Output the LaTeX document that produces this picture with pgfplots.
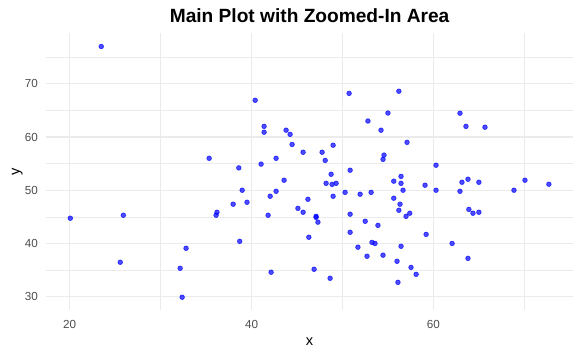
\documentclass[border=0pt]{standalone}
\usepackage{fontspec}
\setmainfont{Liberation Sans}
\usepackage{pgfplots}
\pgfplotsset{compat=1.18}
\definecolor{gridc}{HTML}{EBEBEB}
\definecolor{tickc}{HTML}{4D4D4D}
\begin{document}
\begin{tikzpicture}
\path[use as bounding box] (-34.8bp,-33.75bp) rectangle (400.95bp,232.5bp);
\begin{axis}[
  at={(0,0)}, anchor=south west,
  scale only axis, width=394.8bp, height=207.4bp,
  xmin=17.44, xmax=75.33, ymin=27.5, ymax=79.45,
  xtick={20,40,60}, minor xtick={30,50,70},
  ytick={30,40,50,60,70}, minor ytick={35,45,55,65,75},
  grid=both,
  major grid style={draw=gridc, line width=0.8bp},
  minor grid style={draw=gridc, line width=0.4bp},
  axis line style={draw=none},
  major tick length=0pt, minor tick length=0pt,
  /pgf/number format/assume math mode=true,
  tick label style={font=\fontsize{8.8}{10}\selectfont, text=tickc},
  xticklabel style={anchor=base, inner sep=0pt, yshift=-13.5bp},
  yticklabel style={anchor=east, inner sep=0pt, xshift=-6.1bp},
  every axis title/.style={at={(axis description cs:0.5,1)}, anchor=base, yshift=8.1bp, font=\bfseries\fontsize{14.4}{16}\selectfont},
  every axis x label/.style={at={(axis description cs:0.5,0)}, anchor=base, yshift=-26.25bp, font=\fontsize{11}{13}\selectfont},
  every axis y label/.style={at={(axis description cs:-0.0509,0.5)}, anchor=base, rotate=90, font=\fontsize{11}{13}\selectfont},
  title={Main Plot with Zoomed-In Area},
  xlabel={x}, ylabel={y},
  clip=false,
]
\addplot[only marks, mark=*, mark size=1.75bp,
  mark options={draw=blue, fill=blue, line width=0.5bp, fill opacity=0.7, draw opacity=0.7}]
table {
x y
23.47 77.0
35.34 56.0
38.6 54.2
40.4 66.9
50.73 68.2
56.2 68.6
55.0 64.5
52.8 63.0
54.24 61.28
41.38 62.0
41.38 60.9
43.8 61.28
44.24 60.5
57.1 59.0
44.46 58.6
48.97 58.46
45.67 57.14
47.76 57.14
54.57 56.6
54.46 55.8
42.7 56.0
48.1 55.6
41.05 54.9
50.84 53.76
48.75 53.0
56.44 52.6
43.58 51.88
62.92 64.47
63.58 62.0
65.67 61.84
60.29 54.7
20.07 44.74
25.9 45.3
25.56 36.47
32.8 39.1
32.15 35.34
32.37 29.9
36.1 45.3
36.2 45.86
37.98 47.37
38.7 40.4
38.97 50.0
42.05 48.87
42.7 49.8
39.5 47.74
41.82 45.3
46.2 48.3
45.1 46.6
45.67 45.86
47.1 45.1
47.1 44.9
47.3 44.0
48.2 51.3
48.86 51.1
49.3 51.3
48.97 48.87
50.29 49.6
51.94 49.25
53.15 49.6
55.64 51.7
56.44 51.3
56.66 50.0
55.64 48.5
56.33 47.37
56.2 46.24
57.4 45.68
56.99 45.1
50.84 45.5
52.5 44.17
53.9 43.4
50.84 42.1
46.3 41.17
53.25 40.2
53.58 40.0
51.7 39.3
52.7 37.6
54.46 37.8
56.44 39.47
56.0 36.65
57.54 35.5
58.1 34.2
56.1 32.7
42.15 34.6
46.88 35.15
48.64 33.46
59.08 50.94
60.29 50.0
63.14 51.5
63.8 52.07
65.0 51.5
62.92 49.8
68.86 50.0
70.07 51.88
72.7 51.13
63.9 46.4
64.35 45.68
65.0 45.86
59.2 41.7
62.06 40.0
63.8 37.2
};
\end{axis}
\end{tikzpicture}
\end{document}
